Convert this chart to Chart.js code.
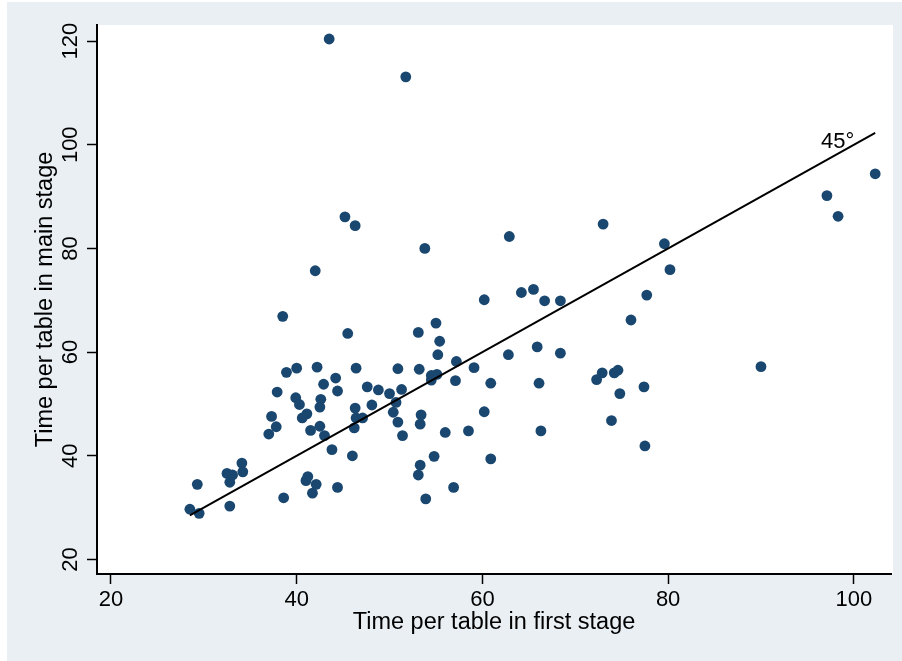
<!DOCTYPE html>
<html>
<head>
<meta charset="utf-8">
<script src="https://cdn.jsdelivr.net/npm/chart.js@4/dist/chart.umd.min.js"></script>
<style>
  html, body { margin: 0; padding: 0; background: #fff; }
  #wrap { position: absolute; left: 7px; top: 2px; width: 895px; height: 659px; background: #e9eff3; }
</style>
</head>
<body>
<div id="wrap"><canvas id="chart"></canvas></div>
<script>
// time per table, first stage (x) and main stage (y)
const firstStage = [
  38.5, 45.5, 38.9, 40.0, 42.2, 46.4, 37.9, 42.9, 44.2, 44.4, 47.6, 39.9, 40.3, 42.6, 42.5,
  46.3, 37.3, 37.8, 37.0, 41.1, 40.6, 41.5, 42.5, 43.0, 43.8, 46.0, 46.2, 46.4, 47.1,
  32.5, 33.1, 34.1, 34.2, 32.8, 29.3, 32.8, 28.5, 29.5, 38.6, 41.2, 41.0, 42.1, 41.7, 44.4,
  60.2, 66.7, 68.4, 55.0, 53.1, 55.4, 55.2, 62.8, 65.9, 68.4, 57.2, 50.9, 53.2, 59.1,
  54.5, 55.1, 54.5, 57.1, 60.9, 66.1, 48.8, 50.0, 51.3, 48.1, 50.7, 50.4, 50.9, 51.4,
  53.4, 53.3, 56.0, 58.5, 60.2, 66.3, 54.8, 60.9, 53.3, 53.1, 56.9, 53.9,
  62.9, 73.0, 79.6, 80.2, 64.2, 65.5, 77.7, 76.0, 72.3, 72.9, 74.2, 74.6, 74.8, 77.4,
  73.9, 77.5, 90.0, 97.1, 98.3, 102.3,
  43.5, 51.75, 45.2, 46.3, 53.8, 42.0
];
const mainStage = [
  66.9, 63.6, 56.1, 56.9, 57.1, 56.9, 52.3, 53.8, 55.0, 52.5, 53.3, 51.2, 49.9, 50.9, 49.4,
  49.2, 47.6, 45.6, 44.2, 48.1, 47.3, 44.9, 45.7, 43.9, 41.2, 40.0, 45.4, 47.3, 47.3,
  36.6, 36.3, 38.6, 36.9, 34.9, 34.5, 30.3, 29.7, 28.9, 31.9, 36.0, 35.2, 34.5, 32.8, 33.9,
  70.1, 69.9, 69.9, 65.6, 63.8, 62.1, 59.5, 59.5, 61.0, 59.8, 58.2, 56.8, 56.7, 57.0,
  55.5, 55.7, 54.6, 54.5, 54.0, 54.0, 52.7, 52.0, 52.8, 49.8, 50.3, 48.4, 46.5, 43.9,
  47.9, 46.1, 44.5, 44.8, 48.5, 44.8, 39.9, 39.4, 38.2, 36.3, 33.9, 31.7,
  82.3, 84.7, 80.9, 75.9, 71.5, 72.1, 71.0, 66.2, 54.7, 56.0, 56.0, 56.5, 52.0, 53.3,
  46.8, 41.9, 57.2, 90.2, 86.2, 94.4,
  120.4, 113.1, 86.1, 84.4, 80.0, 75.7
];
const xTicks = [20, 40, 60, 80, 100];
const yTicks = [20, 40, 60, 80, 100, 120];
const lineLabel = '45°';

const navy = '#1a476f';
const family = '"Liberation Sans", Arial, sans-serif';
const tickFont = { family, size: 22 };
const titleFont = { family, size: 23.5 };

const points = firstStage.map((x, i) => ({ x, y: mainStage[i] }));
const lo = Math.min(...firstStage), hi = Math.max(...firstStage);
const diagonal = [{ x: lo, y: lo }, { x: hi, y: hi }];

// white plot region + the "45°" tag at the top end of the line
const plotBg = {
  id: 'plotBg',
  beforeDraw(chart) {
    const { ctx, chartArea: a } = chart;
    ctx.save();
    ctx.fillStyle = '#fff';
    ctx.fillRect(a.left, a.top, a.right - a.left + 2, a.bottom - a.top);
    ctx.restore();
  },
  afterDatasetsDraw(chart) {
    const { ctx, scales } = chart;
    const px = scales.x.getPixelForValue(hi), py = scales.y.getPixelForValue(hi);
    ctx.save();
    ctx.font = '22px ' + family;
    ctx.fillStyle = '#000';
    ctx.textAlign = 'right';
    ctx.textBaseline = 'alphabetic';
    ctx.fillText(lineLabel, px - 21, py + 15);
    ctx.restore();
  }
};

new Chart(document.getElementById('chart'), {
  type: 'scatter',
  data: {
    datasets: [
      {
        type: 'line', data: diagonal, borderColor: '#000', borderWidth: 2,
        pointRadius: 0, fill: false, tension: 0
      },
      {
        data: points, backgroundColor: navy, borderColor: navy,
        pointRadius: 5.4, borderWidth: 0
      }
    ]
  },
  options: {
    responsive: true,
    maintainAspectRatio: false,
    animation: false,
    events: [],
    layout: { padding: { left: 0, top: 23, right: 11, bottom: 0 } },
    plugins: { legend: { display: false }, tooltip: { enabled: false } },
    scales: {
      x: {
        type: 'linear', min: 18.5, max: 104,
        afterBuildTicks: s => { s.ticks = xTicks.map(v => ({ value: v })); },
        afterFit: s => { s.height = 87; },
        grid: { drawOnChartArea: false, tickLength: 10, tickWidth: 1.5, tickColor: '#000' },
        border: { display: true, color: '#000', width: 2 },
        ticks: { color: '#000', font: tickFont, padding: 3, maxRotation: 0 },
        title: {
          display: true, text: 'Time per table in first stage', color: '#000', font: titleFont,
          padding: { top: 0, bottom: 24 }
        }
      },
      y: {
        type: 'linear', min: 17.2, max: 123.1,
        afterBuildTicks: s => { s.ticks = yTicks.map(v => ({ value: v })); },
        afterFit: s => { s.width = 90; },
        grid: { drawOnChartArea: false, tickLength: 10, tickWidth: 1.5, tickColor: '#000' },
        border: { display: true, color: '#000', width: 2 },
        ticks: { color: '#000', font: tickFont, padding: -2, minRotation: 90, maxRotation: 90, crossAlign: 'center' },
        title: {
          display: true, text: 'Time per table in main stage', color: '#000', font: titleFont,
          padding: { top: 24, bottom: 0 }
        }
      }
    }
  },
  plugins: [plotBg]
});
</script>
</body>
</html>
